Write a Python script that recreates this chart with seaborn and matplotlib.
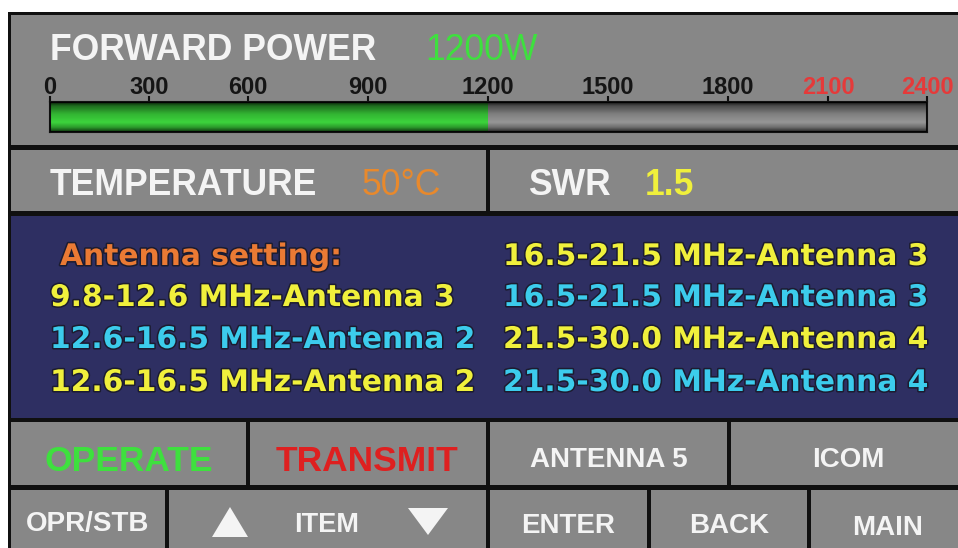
import numpy as np
import pandas as pd
import matplotlib
matplotlib.use("Agg")
import matplotlib.pyplot as plt
from matplotlib.patches import Rectangle, Polygon
import matplotlib.patheffects as pe
import seaborn as sns

# ---------------- data ----------------
power_title = "FORWARD POWER"
power_value = 1200
power_max = 2400
power_label = "1200W"
scale_ticks = [0, 300, 600, 900, 1200, 1500, 1800, 2100, 2400]
scale_tick_labels = ["0", "300", "600", "900", "1200", "1500", "1800", "2100", "2400"]
scale_red_from = 2100
temperature_title = "TEMPERATURE"
temperature_label = "50°C"
swr_title = "SWR"
swr_label = "1.5"
antenna_header = "Antenna setting:"
antenna_left = ["9.8-12.6 MHz-Antenna 3", "12.6-16.5 MHz-Antenna 2", "12.6-16.5 MHz-Antenna 2"]
antenna_left_colors = ["yellow", "cyan", "yellow"]
antenna_right = ["16.5-21.5 MHz-Antenna 3", "16.5-21.5 MHz-Antenna 3",
                 "21.5-30.0 MHz-Antenna 4", "21.5-30.0 MHz-Antenna 4"]
antenna_right_colors = ["yellow", "cyan", "yellow", "cyan"]
status_buttons = ["OPERATE", "TRANSMIT", "ANTENNA 5", "ICOM"]
nav_buttons = ["OPR/STB", "ITEM", "ENTER", "BACK", "MAIN"]

# ---------------- style / layout ----------------
sns.set_style("white")
plt.rcParams["font.family"] = ["Liberation Sans", "DejaVu Sans"]

GRAY = "#878787"
BLACK = "#101010"
NAVY = "#2e2f62"
WHITE = "#f4f4f4"
PAL = {"yellow": "#f0f03c", "cyan": "#3cccec"}
GREEN_TXT = "#3ee03e"
ORANGE_HEAD = "#ea7a34"
ORANGE_TEMP = "#e8892c"
RED_TXT = "#de2020"
TICK_RED = "#e53a3a"

W, H = 958, 548
# pixel positions of the gauge scale marks (the meter's scale is not uniform)
TICK_PX = [50, 149, 248, 368, 488, 608, 728, 828, 927]
BAR_TOP, BAR_BOT = 102, 132

fig = plt.figure(figsize=(W / 100, H / 100), dpi=100)
fig.patch.set_facecolor("white")
bg = fig.add_axes([0, 0, 1, 1])
bg.set_xlim(0, W)
bg.set_ylim(H, 0)
bg.axis("off")


def panel(x0, y0, x1, y1, color):
    bg.add_patch(Rectangle((x0, y0), x1 - x0, y1 - y0, facecolor=color, edgecolor="none"))


# frame and panels
panel(8, 12, W, H, BLACK)
panel(11, 15, W, 145, GRAY)
panel(11, 150, 486, 211, GRAY)
panel(490, 150, W, 211, GRAY)
panel(11, 216, W, 418, NAVY)
for x0, x1 in [(11, 246), (250, 486), (490, 727), (731, W)]:
    panel(x0, 422, x1, 485, GRAY)
for x0, x1 in [(11, 165), (169, 486), (490, 647), (651, 807), (811, W)]:
    panel(x0, 490, x1, H, GRAY)

# header texts
bg.text(50, 60, power_title, color=WHITE, fontsize=25.6, fontweight="bold", va="baseline")
bg.text(425, 60, power_label, color=GREEN_TXT, fontsize=25.6, va="baseline")
bg.text(50, 195, temperature_title, color=WHITE, fontsize=25.6, fontweight="bold", va="baseline")
bg.text(362, 195, temperature_label, color=ORANGE_TEMP, fontsize=25.6, va="baseline")
bg.text(528, 195, swr_title, color=WHITE, fontsize=25.6, fontweight="bold", va="baseline")
bg.text(645, 195, swr_label, color=PAL["yellow"], fontsize=25.6, fontweight="bold", va="baseline")

# antenna settings
stroke = [pe.withStroke(linewidth=2.2, foreground="#1c1c30")]
rows_y = [265, 306, 348, 391]
afont = dict(family=["DejaVu Sans"], fontsize=21.4, fontweight="bold", va="baseline",
             path_effects=stroke)
bg.text(60, rows_y[0], antenna_header, color=ORANGE_HEAD, **afont)
for txt, c, y in zip(antenna_left, antenna_left_colors, rows_y[1:]):
    bg.text(50, y, txt, color=PAL[c], **afont)
for txt, c, y in zip(antenna_right, antenna_right_colors, rows_y):
    bg.text(503, y, txt, color=PAL[c], **afont)

# status buttons
bg.text(129, 471, status_buttons[0], color=GREEN_TXT, fontsize=25.5,
        fontweight="bold", ha="center", va="baseline")
bg.text(367, 471, status_buttons[1], color=RED_TXT, fontsize=25.5,
        fontweight="bold", ha="center", va="baseline")
bg.text(609, 467, status_buttons[2], color=WHITE, fontsize=20, fontweight="bold",
        ha="center", va="baseline")
bg.text(848, 467, status_buttons[3], color=WHITE, fontsize=20, fontweight="bold",
        ha="center", va="baseline")

# navigation buttons
bg.text(88, 531, nav_buttons[0], color=WHITE, fontsize=20, fontweight="bold",
        ha="center", va="baseline")
bg.text(327, 532, nav_buttons[1], color=WHITE, fontsize=19.5, fontweight="bold",
        ha="center", va="baseline")
for txt, cx, by in zip(nav_buttons[2:], [568, 729, 888], [533, 533, 535]):
    bg.text(cx, by, txt, color=WHITE, fontsize=20, fontweight="bold", ha="center", va="baseline")
bg.add_patch(Polygon([(212, 537), (248, 537), (230, 507)], closed=True, facecolor=WHITE,
                     edgecolor="none"))
bg.add_patch(Polygon([(408, 508), (448, 508), (428, 535)], closed=True, facecolor=WHITE,
                     edgecolor="none"))

# ---------------- gauge ----------------
left = TICK_PX[0] / W
width = (TICK_PX[-1] - TICK_PX[0]) / W
gax = fig.add_axes([left, 1 - BAR_BOT / H, width, (BAR_BOT - BAR_TOP) / H])
gax.set_facecolor("none")

gauge_bg = pd.DataFrame({"meter": ["power"], "watts": [power_max]})
gauge_val = pd.DataFrame({"meter": ["power"], "watts": [power_value]})
sns.barplot(data=gauge_bg, x="watts", y="meter", orient="h", width=1.0, color="#969696",
            saturation=1, ax=gax, zorder=1, linewidth=0)
sns.barplot(data=gauge_val, x="watts", y="meter", orient="h", width=1.0, color="#3cd43c",
            saturation=1, ax=gax, zorder=2, linewidth=0)

fwd = lambda v: np.interp(v, scale_ticks, TICK_PX)
inv = lambda p: np.interp(p, TICK_PX, scale_ticks)
gax.set_xscale("function", functions=(fwd, inv))

# cylindrical shading
t = np.linspace(0, 1, 60)
alpha = np.interp(t, [0, 0.12, 0.4, 0.68, 0.85, 1], [0.85, 0.5, 0.15, 0.0, 0.28, 0.75])
shade = np.zeros((60, 1, 4))
shade[:, 0, 3] = alpha
gax.imshow(shade, extent=(0, 1, 0, 1), transform=gax.transAxes, aspect="auto",
           interpolation="bilinear", origin="upper", zorder=3)
gax.set_xlim(scale_ticks[0], scale_ticks[-1])
gax.set_ylim(0.5, -0.5)

gax.set_yticks([])
gax.set_ylabel("")
gax.set_xlabel("")
gax.xaxis.tick_top()
gax.set_xticks(scale_ticks)
gax.set_xticklabels(scale_tick_labels, fontweight="bold")
gax.tick_params(axis="x", direction="out", length=4.5, width=1.5, color=BLACK,
                labelsize=17, pad=-2.6, labelcolor="#151515")
for lbl, v in zip(gax.get_xticklabels(), scale_ticks):
    if v >= scale_red_from:
        lbl.set_color(TICK_RED)
for s in gax.spines.values():
    s.set_visible(True)
    s.set_color(BLACK)
    s.set_linewidth(1.5)

fig.savefig("out.png", dpi=100, facecolor="white")
